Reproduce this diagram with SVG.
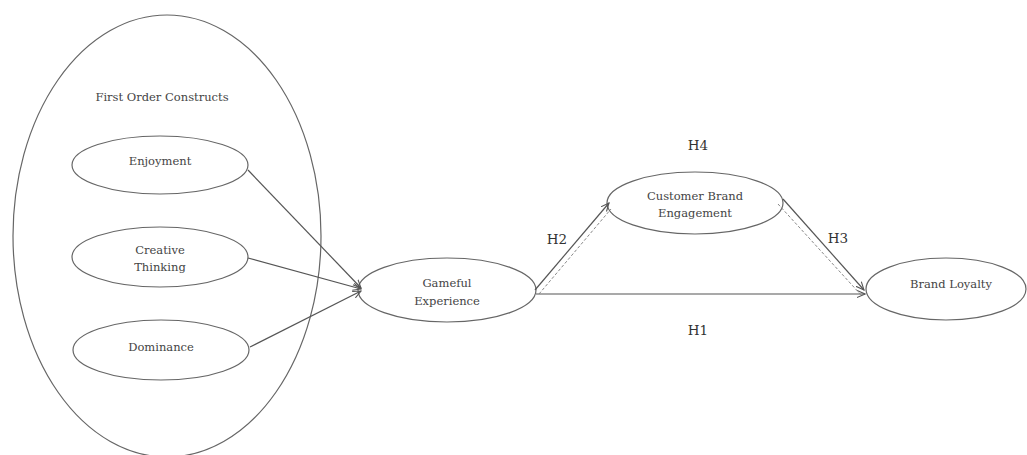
<svg xmlns="http://www.w3.org/2000/svg" width="1027" height="455" viewBox="0 0 1027 455">
<defs>
<marker id="arr" viewBox="0 0 10 10" refX="9" refY="5" markerWidth="9" markerHeight="9" orient="auto" markerUnits="userSpaceOnUse">
<path d="M0,1 L9,5 L0,9" fill="none" stroke="#555" stroke-width="1.2"/>
</marker>
</defs>
<style>
.n{fill:#fff;stroke:#666;stroke-width:1.2}
.t{font-family:"DejaVu Serif","Liberation Serif",serif;font-size:11.5px;fill:#444;text-anchor:middle}
.h{font-family:"DejaVu Serif","Liberation Serif",serif;font-size:13.5px;fill:#333;text-anchor:middle}
.c{stroke:#555;stroke-width:1.2;fill:none}
.d{stroke:#888;stroke-width:1;fill:none;stroke-dasharray:3 2}
</style>
<rect width="1027" height="455" fill="#fff"/>
<g id="first-order">
<ellipse cx="167" cy="236" rx="154" ry="221" fill="none" stroke="#666" stroke-width="1.2"/>
<text class="t" x="162" y="101">First Order Constructs</text>
</g>
<g id="enjoyment">
<ellipse class="n" cx="160" cy="165" rx="88" ry="29"/>
<text class="t" x="160" y="165">Enjoyment</text>
</g>
<g id="creative">
<ellipse class="n" cx="160" cy="257" rx="88" ry="30"/>
<text class="t" x="160" y="254">Creative</text>
<text class="t" x="160" y="271">Thinking</text>
</g>
<g id="dominance">
<ellipse class="n" cx="161" cy="350" rx="88" ry="30"/>
<text class="t" x="161" y="351">Dominance</text>
</g>
<g id="gameful">
<ellipse class="n" cx="447" cy="290" rx="89" ry="32"/>
<text class="t" x="447" y="287">Gameful</text>
<text class="t" x="447" y="305">Experience</text>
</g>
<g id="cbe">
<ellipse class="n" cx="695" cy="203" rx="88" ry="31"/>
<text class="t" x="695" y="200">Customer Brand</text>
<text class="t" x="695" y="217">Engagement</text>
</g>
<g id="loyalty">
<ellipse class="n" cx="946" cy="289" rx="80" ry="31"/>
<text class="t" x="951" y="288">Brand Loyalty</text>
</g>
<g id="connectors">
<line class="c" x1="248" y1="170" x2="361" y2="288" marker-end="url(#arr)"/>
<line class="c" x1="248" y1="258" x2="361" y2="289" marker-end="url(#arr)"/>
<line class="c" x1="250" y1="347" x2="361" y2="291" marker-end="url(#arr)"/>
<line class="c" x1="536" y1="294" x2="865" y2="294" marker-end="url(#arr)"/>
<line class="c" x1="535" y1="290" x2="609" y2="203" marker-end="url(#arr)"/>
<line class="d" x1="539" y1="294" x2="611" y2="209"/>
<line class="c" x1="783" y1="199" x2="864" y2="290" marker-end="url(#arr)"/>
<line class="d" x1="778" y1="204" x2="862" y2="296"/>
<text class="h" x="557" y="244">H2</text>
<text class="h" x="838" y="243">H3</text>
<text class="h" x="698" y="150">H4</text>
<text class="h" x="698" y="335">H1</text>
</g>
</svg>
